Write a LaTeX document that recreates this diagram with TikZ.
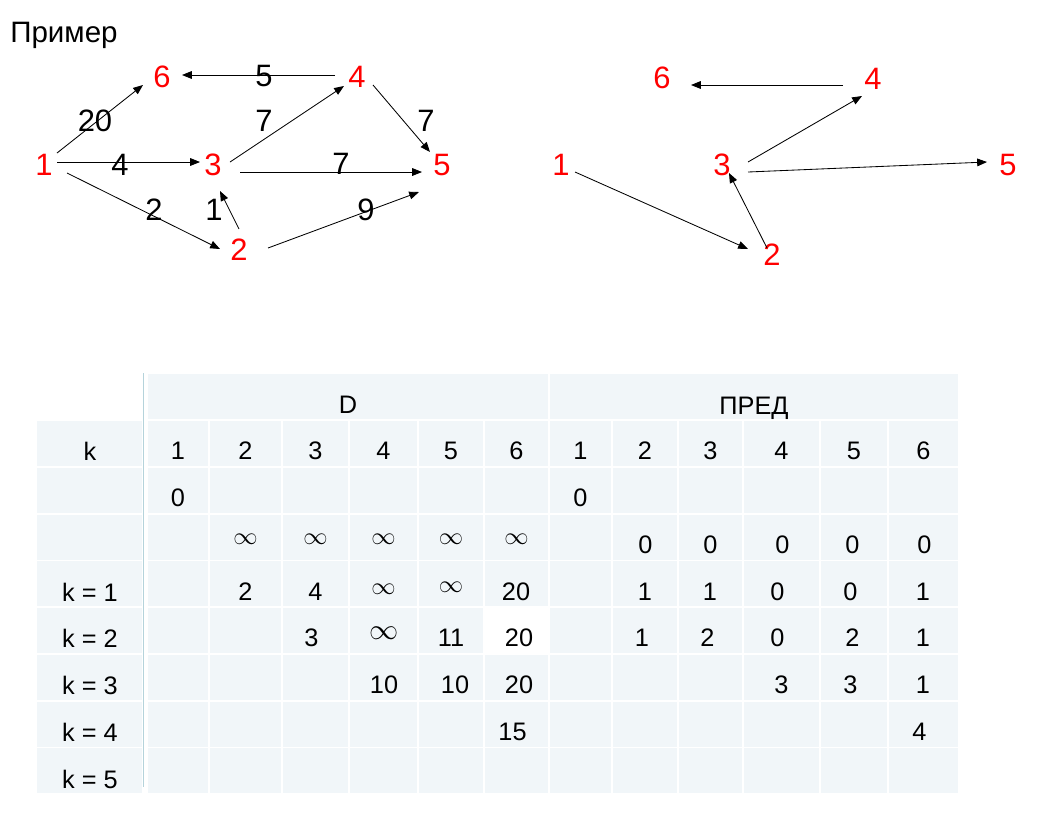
\documentclass[tikz,border=0pt]{standalone}
\usepackage{fontspec}
\setmainfont{Liberation Sans}
\usetikzlibrary{arrows.meta}
\definecolor{cellbg}{HTML}{F1F6F9}
\definecolor{rulebl}{HTML}{B5D3DB}
\newcommand{\inftybig}[1]{{\fontsize{#1}{#1}\selectfont$\infty$}}

\begin{document}
\begin{tikzpicture}[x=0.025cm, y=-0.025cm,
  vtx/.style={text=red, font=\fontsize{22}{26}\selectfont, inner sep=0pt},
  wt/.style={font=\fontsize{22}{26}\selectfont, inner sep=0pt},
  cell/.style={font=\fontsize{18}{22}\selectfont, inner sep=0pt},
  arr/.style={line width=0.6pt, -{Triangle[length=7pt,width=5.5pt]}}]
  \useasboundingbox (0,0) rectangle (1044,817);
  \node[anchor=base west, font=\fontsize{21}{24}\selectfont, inner sep=0pt] (title) at (10,42) {Пример};

  % graph with all weights (left)
  \node[vtx] (a1) at (44,165) {1};
  \node[vtx] (a2) at (239,250) {2};
  \node[vtx] (a3) at (213,165) {3};
  \node[vtx] (a4) at (357,77) {4};
  \node[vtx] (a5) at (442,165) {5};
  \node[vtx] (a6) at (162,77) {6};
  \draw[arr] ([shift={(13,-12)}]a1.center) -- ([shift={(-19,8)}]a6.center);
  \draw[arr] ([shift={(-22,-2)}]a4.center) -- ([shift={(20,-2)}]a6.center);
  \draw[arr] ([shift={(13,-3)}]a1.center) -- ([shift={(-13,-3)}]a3.center);
  \draw[arr] ([shift={(23,8)}]a1.center) -- ([shift={(-19,-1)}]a2.center);
  \draw[arr] ([shift={(17,-3)}]a3.center) -- ([shift={(-13,9)}]a4.center);
  \draw[arr] ([shift={(27,7)}]a3.center) -- ([shift={(-20,7)}]a5.center);
  \draw[arr] ([shift={(16,8)}]a4.center) -- ([shift={(-12,-13)}]a5.center);
  \draw[arr] ([shift={(0,-21)}]a2.center) -- ([shift={(7,26)}]a3.center);
  \draw[arr] ([shift={(29,-2)}]a2.center) -- ([shift={(-23,27)}]a5.center);
  \node[wt] (w16) at (95,121) {20};
  \node[wt] (w46) at (264,76) {5};
  \node[wt] (w13) at (120,165) {4};
  \node[wt] (w34) at (264,121) {7};
  \node[wt] (w45) at (426,121) {7};
  \node[wt] (w35) at (341,164) {7};
  \node[wt] (w12) at (154,210) {2};
  \node[wt] (w23) at (214,210) {1};
  \node[wt] (w25) at (366,210) {9};

  % shortest path tree (right)
  \node[vtx] (b1) at (561,165) {1};
  \node[vtx] (b2) at (772,255) {2};
  \node[vtx] (b3) at (722,165) {3};
  \node[vtx] (b4) at (873,79) {4};
  \node[vtx] (b5) at (1008,165) {5};
  \node[vtx] (b6) at (662,78) {6};
  \draw[arr] ([shift={(-30,6)}]b4.center) -- ([shift={(29,7)}]b6.center);
  \draw[arr] ([shift={(26,-3)}]b3.center) -- ([shift={(-11,17)}]b4.center);
  \draw[arr] ([shift={(26,7)}]b3.center) -- ([shift={(-21,-3)}]b5.center);
  \draw[arr] ([shift={(14,7)}]b1.center) -- ([shift={(-24,-6)}]b2.center);
  \draw[arr] ([shift={(-5,-7)}]b2.center) -- ([shift={(7,8)}]b3.center);

  % table background
  \fill[cellbg] (148,374) rectangle (548,419);
  \fill[cellbg] (550,374) rectangle (958,419);
  \foreach \r in {0,...,7} {
    \pgfmathsetmacro\ya{421+\r*46.75}
    \pgfmathsetmacro\yb{\ya+45.2}
    \fill[cellbg] (37,\ya) rectangle (142,\yb);
    \foreach \xa/\xb in {148/208,210/281,283/348,350/417,419/483,485/548,
                         550/611,613/677,679/742,744/819,821/887,889/958}
      \fill[cellbg] (\xa,\ya) rectangle (\xb,\yb);
  }
  \fill[white] (485,608) rectangle (548,654);
  \draw[rulebl, line width=0.8pt] (143.5,373) -- (143.5,787);

  % table texts
  \node[cell] (hD) at (348,404.5) {D};
  \node[cell, anchor=base] (hP) at (754,414) {ПРЕД};
  \node[cell] (kh) at (90,451) {k};
  \foreach \c/\x in {1/178,2/245.5,3/315.5,4/383.5,5/451,6/516.5}
    \node[cell] (dh\c) at (\x,451) {\c};
  \foreach \c/\x in {1/580.5,2/645,3/710.5,4/781.5,5/854,6/923.5}
    \node[cell] (ph\c) at (\x,451) {\c};
  \foreach \k/\y in {1/592,2/638,3/685,4/732,5/779}
    \node[cell] (k\k) at (90,\y) {k = \k};
  \node[cell] (d0) at (178,498) {0};
  \node[cell] (p0) at (580.5,498) {0};
  \foreach \x [count=\i] in {245.5,315.5,383.5,451,516.5}
    \node[cell] (dinf\i) at (\x,539) {\inftybig{17}};
  \foreach \x [count=\i] in {645.5,710.5,782.5,852.5,924.5}
    \node[cell] (pinf\i) at (\x,545) {0};
  % k = 1
  \foreach \x/\y/\t [count=\i] in {245.5/592/2,315.5/592/4,383.5/589/\inftybig{17},451/587/\inftybig{16},516/592/20,
                                    645/592/1,710/592/1,777.5/592/0,850.5/592/0,923/592/1}
    \node[cell] (ka\i) at (\x,\y) {\t};
  % k = 2
  \foreach \x/\y/\t [count=\i] in {311.5/638/3,384.5/633/\inftybig{21},451/638/11,519/638/20,
                                    642/638/1,707.5/638/2,777.5/638/0,852.5/638/2,923/638/1}
    \node[cell] (kb\i) at (\x,\y) {\t};
  % k = 3
  \foreach \x/\t [count=\i] in {384/10,455/10,519/20,781.5/3,850.5/3,923/1}
    \node[cell] (kc\i) at (\x,685) {\t};
  % k = 4
  \node[cell] (kd1) at (512.5,732) {15};
  \node[cell] (kd2) at (919.5,732) {4};
\end{tikzpicture}
\end{document}
